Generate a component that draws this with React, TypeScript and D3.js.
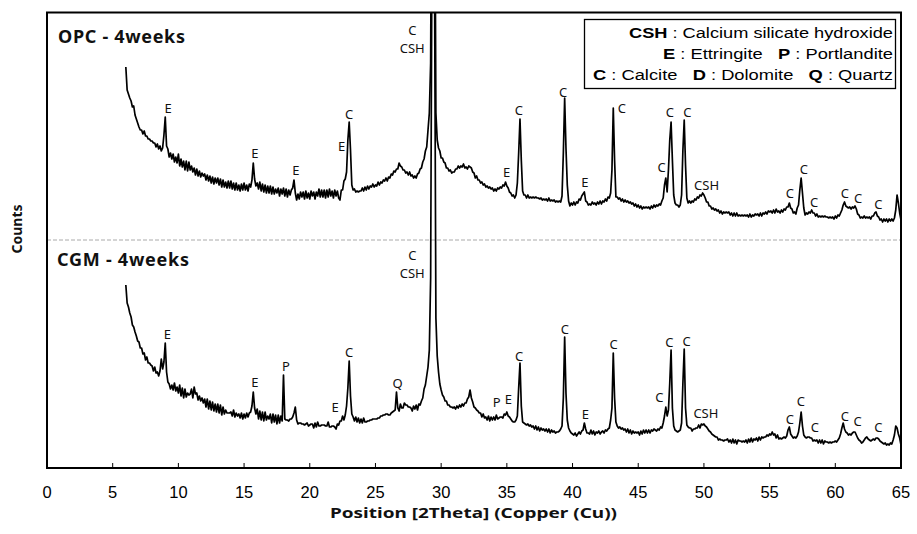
import React from 'react';
import * as d3 from 'd3';

const W = 917;
const H = 534;

// x axis ticks (2Theta)
const xTicks = [0, 5, 10, 15, 20, 25, 30, 35, 40, 45, 50, 55, 60, 65];

// scan: 2Theta from 6.0 to 65.0 in steps of 0.1
const SCAN_START = 6.0;
const SCAN_STEP = 0.1;

// vertical shift applied to the OPC pattern (stacked display)
const OPC_OFFSET = 225;
const SEPARATOR_LEVEL = 228;

// CGM - 4weeks intensities (a.u.), one row per degree (x.0 .. x.9)
const cgmCounts: number[] = [
  183, 165, 161, 155, 151, 143, 141, 136, 132, 127, // 6
  126, 120, 120, 114, 115, 108, 111, 105, 105, 103, // 7
  102, 97, 101, 95, 96, 92, 97, 109, 99, 106, // 8
  125, 96, 86, 84, 79, 83, 78, 85, 77, 81, // 9
  75, 83, 72, 80, 70, 79, 71, 75, 73, 74, // 10
  79, 70, 81, 74, 75, 68, 72, 67, 70, 65, // 11
  69, 61, 69, 59, 67, 58, 66, 57, 64, 56, // 12
  64, 55, 63, 53, 61, 54, 58, 55, 55, 55, // 13
  56, 52, 58, 51, 55, 52, 54, 50, 55, 49, // 14
  54, 50, 55, 51, 55, 56, 62, 76, 60, 54, // 15
  59, 49, 57, 48, 56, 47, 56, 48, 52, 49, // 16
  54, 45, 54, 46, 53, 44, 53, 45, 52, 47, // 17
  93, 49, 48, 48, 47, 49, 49, 51, 55, 61, // 18
  48, 44, 45, 45, 44, 44, 43, 44, 45, 42, // 19
  43, 44, 44, 40, 45, 41, 46, 42, 42, 43, // 20
  43, 43, 42, 42, 46, 41, 41, 42, 42, 41, // 21
  39, 44, 43, 47, 47, 52, 48, 53, 62, 80, // 22
  107, 72, 54, 51, 47, 51, 46, 50, 45, 49, // 23
  45, 50, 46, 46, 47, 47, 48, 48, 49, 49, // 24
  49, 49, 50, 50, 52, 52, 53, 53, 54, 54, // 25
  53, 53, 55, 56, 57, 58, 76, 60, 57, 64, // 26
  60, 60, 65, 63, 63, 61, 61, 60, 57, 62, // 27
  59, 63, 58, 64, 63, 67, 70, 79, 83, 92, // 28
  101, 118, 190, 520, 540, 480, 150, 112, 96, 84, // 29
  78, 73, 71, 67, 67, 63, 63, 61, 61, 60, // 30
  61, 59, 62, 60, 63, 61, 64, 62, 65, 65, // 31
  69, 71, 78, 70, 66, 61, 60, 58, 57, 55, // 32
  55, 51, 54, 50, 51, 48, 52, 47, 51, 48, // 33
  51, 48, 53, 49, 50, 51, 51, 50, 54, 53, // 34
  56, 52, 51, 49, 47, 46, 46, 48, 52, 80, // 35
  105, 62, 46, 45, 44, 43, 44, 42, 43, 41, // 36
  42, 39, 42, 38, 41, 37, 40, 38, 39, 37, // 37
  39, 36, 39, 35, 38, 36, 37, 35, 36, 36, // 38
  37, 39, 42, 70, 131, 75, 48, 40, 37, 35, // 39
  34, 33, 35, 32, 34, 36, 34, 37, 38, 45, // 40
  39, 35, 35, 34, 38, 34, 37, 33, 36, 35, // 41
  37, 34, 36, 37, 35, 38, 37, 39, 40, 48, // 42
  60, 115, 70, 46, 42, 40, 41, 39, 40, 38, // 43
  39, 36, 39, 35, 38, 34, 37, 35, 36, 35, // 44
  36, 33, 37, 34, 38, 35, 38, 35, 38, 35, // 45
  38, 37, 39, 38, 37, 39, 38, 41, 40, 45, // 46
  52, 61, 52, 58, 85, 118, 60, 42, 38, 37, // 47
  36, 37, 38, 45, 85, 119, 60, 43, 41, 40, // 48
  40, 37, 39, 39, 40, 40, 43, 40, 44, 43, // 49
  44, 42, 41, 39, 37, 36, 34, 33, 32, 31, // 50
  31, 28, 29, 28, 28, 27, 28, 28, 29, 26, // 51
  28, 25, 29, 25, 28, 24, 28, 27, 27, 26, // 52
  27, 26, 28, 25, 29, 26, 30, 26, 29, 28, // 53
  30, 27, 31, 28, 31, 30, 31, 31, 33, 32, // 54
  34, 33, 36, 33, 34, 30, 33, 29, 30, 29, // 55
  30, 31, 30, 32, 38, 41, 34, 32, 30, 31, // 56
  30, 32, 36, 45, 56, 42, 33, 31, 30, 31, // 57
  31, 30, 30, 27, 28, 27, 28, 25, 28, 25, // 58
  28, 24, 27, 26, 26, 25, 26, 25, 26, 26, // 59
  27, 26, 28, 30, 34, 40, 45, 39, 36, 35, // 60
  33, 34, 33, 35, 36, 36, 33, 30, 28, 27, // 61
  25, 26, 28, 30, 31, 29, 28, 27, 28, 29, // 62
  28, 30, 30, 29, 27, 26, 25, 24, 25, 23, // 63
  24, 23, 25, 24, 28, 33, 42, 40, 34, 30, // 64
  23, // 65
];

// OPC - 4weeks intensities (a.u.), one row per degree (x.0 .. x.9)
const opcCounts: number[] = [
  176, 153, 149, 145, 142, 136, 137, 128, 124, 120, // 6
  116, 113, 113, 109, 112, 107, 107, 104, 104, 102, // 7
  102, 100, 100, 96, 99, 94, 97, 92, 95, 108, // 8
  126, 97, 94, 86, 90, 84, 89, 81, 86, 80, // 9
  89, 77, 84, 76, 82, 73, 82, 72, 81, 73, // 10
  77, 71, 75, 68, 74, 67, 72, 66, 70, 67, // 11
  69, 63, 68, 62, 67, 60, 66, 59, 65, 60, // 12
  65, 58, 64, 56, 63, 56, 61, 55, 62, 55, // 13
  62, 54, 60, 53, 60, 53, 58, 52, 59, 53, // 14
  60, 53, 58, 52, 59, 56, 63, 80, 64, 57, // 15
  60, 54, 61, 52, 59, 51, 58, 50, 57, 50, // 16
  57, 49, 56, 49, 54, 50, 55, 47, 54, 49, // 17
  55, 47, 54, 46, 53, 48, 53, 55, 63, 50, // 18
  43, 49, 44, 51, 46, 51, 44, 52, 45, 50, // 19
  44, 52, 47, 51, 44, 51, 47, 54, 46, 53, // 20
  46, 53, 45, 53, 46, 54, 47, 52, 45, 53, // 21
  47, 52, 45, 43, 53, 53, 62, 64, 71, 103, // 22
  121, 93, 58, 53, 54, 51, 52, 51, 52, 52, // 23
  55, 52, 56, 53, 57, 54, 57, 56, 59, 56, // 24
  58, 57, 61, 58, 61, 60, 63, 62, 65, 62, // 25
  66, 65, 69, 68, 72, 71, 74, 74, 80, 77, // 26
  76, 73, 73, 70, 71, 68, 71, 67, 68, 65, // 27
  67, 65, 69, 70, 74, 75, 81, 84, 92, 96, // 28
  113, 130, 180, 475, 495, 425, 130, 103, 95, 92, // 29
  85, 85, 81, 80, 75, 75, 72, 73, 70, 71, // 30
  71, 74, 74, 77, 75, 77, 76, 79, 75, 76, // 31
  74, 77, 76, 75, 71, 70, 65, 67, 63, 63, // 32
  60, 61, 58, 59, 56, 57, 55, 56, 54, 55, // 33
  52, 54, 52, 55, 54, 56, 55, 58, 57, 61, // 34
  57, 55, 51, 50, 47, 48, 45, 48, 60, 90, // 35
  124, 83, 52, 48, 48, 45, 48, 45, 46, 45, // 36
  46, 45, 46, 45, 45, 44, 45, 43, 44, 43, // 37
  44, 42, 45, 42, 43, 42, 43, 41, 42, 41, // 38
  42, 41, 47, 90, 145, 95, 58, 42, 37, 40, // 39
  38, 41, 38, 41, 40, 44, 43, 47, 49, 51, // 40
  42, 41, 38, 39, 38, 41, 39, 40, 38, 41, // 41
  39, 42, 39, 42, 41, 44, 42, 46, 45, 50, // 42
  73, 135, 83, 46, 46, 44, 45, 42, 44, 41, // 43
  43, 41, 42, 40, 41, 39, 40, 37, 39, 36, // 44
  38, 35, 37, 34, 36, 35, 36, 35, 36, 34, // 45
  37, 35, 38, 36, 38, 37, 39, 38, 42, 45, // 46
  58, 65, 51, 73, 103, 121, 83, 48, 40, 38, // 47
  38, 36, 38, 48, 93, 123, 78, 45, 40, 42, // 48
  40, 42, 41, 44, 43, 46, 45, 48, 47, 50, // 49
  48, 45, 41, 41, 37, 37, 34, 35, 33, 34, // 50
  32, 33, 30, 32, 29, 31, 30, 31, 30, 31, // 51
  28, 30, 27, 30, 27, 30, 27, 28, 27, 28, // 52
  27, 28, 27, 28, 26, 29, 26, 28, 27, 29, // 53
  28, 29, 27, 30, 27, 30, 29, 31, 29, 32, // 54
  31, 32, 30, 33, 30, 34, 31, 32, 30, 33, // 55
  31, 34, 33, 36, 36, 40, 35, 34, 30, 31, // 56
  29, 35, 38, 53, 65, 50, 35, 28, 30, 29, // 57
  31, 30, 33, 30, 30, 27, 29, 26, 27, 26, // 58
  27, 26, 27, 26, 26, 25, 26, 25, 26, 24, // 59
  27, 25, 28, 27, 30, 33, 38, 41, 37, 36, // 60
  35, 36, 34, 36, 35, 37, 34, 29, 28, 25, // 61
  26, 25, 27, 25, 26, 25, 26, 24, 27, 27, // 62
  30, 31, 27, 26, 23, 24, 21, 24, 22, 24, // 63
  21, 24, 22, 24, 22, 25, 33, 48, 40, 30, // 64
  23, // 65
];

// phase annotations: [2Theta, intensity, text]
const opcLabels: [number, number, string][] = [
  [9.21, 135, 'E'], [15.83, 90, 'E'], [18.95, 73, 'E'], [22.43, 97, 'E'], [23.0, 129, 'C'],
  [27.8, 213, 'C'], [27.8, 195, 'CSH'], [34.98, 71, 'E'], [35.92, 133, 'C'], [39.29, 151, 'C'],
  [40.94, 61, 'E'], [43.76, 135, 'C'], [46.78, 76, 'C'], [47.41, 131, 'C'], [48.73, 131, 'C'],
  [50.2, 58, 'CSH'], [56.54, 50, 'C'], [57.61, 74, 'C'], [58.39, 41, 'C'], [60.73, 50, 'C'],
  [61.74, 45, 'C'], [63.27, 39, 'C'],
];

const cgmLabels: [number, number, string][] = [
  [9.16, 134, 'E'], [15.83, 86, 'E'], [18.19, 102, 'P'], [21.92, 61, 'E'], [23.0, 116, 'C'],
  [26.69, 85, 'Q'], [27.8, 213, 'C'], [27.8, 195, 'CSH'], [34.22, 66, 'P'], [35.11, 69, 'E'],
  [35.94, 112, 'C'], [39.42, 139, 'C'], [40.97, 54, 'E'], [43.13, 124, 'C'], [46.6, 71, 'C'],
  [47.36, 126, 'C'], [48.68, 127, 'C'], [50.15, 55, 'CSH'], [56.54, 49, 'C'], [57.38, 67, 'C'],
  [58.45, 41, 'C'], [60.73, 52, 'C'], [61.7, 47, 'C'], [63.27, 41, 'C'],
];

// legend rows: [bold key, description]
const legendRows: [string, string][][] = [
  [['CSH', ' : Calcium silicate hydroxide']],
  [['E', ' : Ettringite'], ['P', ' : Portlandite']],
  [['C', ' : Calcite'], ['D', ' : Dolomite'], ['Q', ' : Quartz']],
];
const legendRowStart = [629, 663, 593];

const sampleNames = ['OPC - 4weeks', 'CGM - 4weeks'];

const PL = 47, PR = 901, PT = 12.5, PB = 468;
const GAP = '\u00a0\u00a0\u00a0';

export default function App() {
  const x = d3.scaleLinear().domain([0, 65]).range([PL, PR]);
  const y = d3.scaleLinear().domain([0, 455.5]).range([PB, PT]);
  const toPts = (arr: number[]) => arr.map((v, i) => [SCAN_START + i * SCAN_STEP, v] as [number, number]);
  const cgmLine = d3.line<[number, number]>().x(d => x(d[0])).y(d => y(d[1]));
  const opcLine = d3.line<[number, number]>().x(d => x(d[0])).y(d => y(d[1] + OPC_OFFSET));

  const labelFont = "'Noto Sans', 'DejaVu Sans', sans-serif";
  const arial = "'Liberation Sans', Arial, sans-serif";

  return (
    <svg width={W} height={H} style={{ position: 'absolute', left: 0, top: 0, background: '#fff' }}>
      <defs>
        <clipPath id="plotclip">
          <rect x={PL} y={PT} width={PR - PL} height={PB - PT} />
        </clipPath>
      </defs>
      <rect x={0} y={0} width={W} height={H} fill="#fff" />

      {/* separator */}
      <line x1={PL} x2={PR} y1={y(SEPARATOR_LEVEL)} y2={y(SEPARATOR_LEVEL)} stroke="#aaa" strokeWidth={1} strokeDasharray="4,2" />

      <g clipPath="url(#plotclip)">
        <path d={cgmLine(toPts(cgmCounts)) || ''} fill="none" stroke="#000" strokeWidth={1.7} strokeLinejoin="round" />
        <path d={opcLine(toPts(opcCounts)) || ''} fill="none" stroke="#000" strokeWidth={1.7} strokeLinejoin="round" />
      </g>

      {/* peak labels */}
      <g fontFamily={labelFont} fontSize={13} fill="#111" textAnchor="middle" dominantBaseline="central">
        {opcLabels.map((l, i) => (
          <text key={'o' + i} x={x(l[0])} y={y(l[1] + OPC_OFFSET)}>{l[2]}</text>
        ))}
        {cgmLabels.map((l, i) => (
          <text key={'c' + i} x={x(l[0])} y={y(l[1])}>{l[2]}</text>
        ))}
      </g>

      {/* sample names */}
      <text x={58} y={42.7} fontFamily={labelFont} fontWeight="bold" fontSize={18} fill="#111" textLength={127} lengthAdjust="spacing">{sampleNames[0]}</text>
      <text x={57} y={266} fontFamily={labelFont} fontWeight="bold" fontSize={18} fill="#111" textLength={132} lengthAdjust="spacing">{sampleNames[1]}</text>

      {/* legend */}
      <rect x={584.5} y={19.5} width={311} height={69} fill="#fff" stroke="#000" strokeWidth={1.3} />
      <g fontFamily={arial} fontSize={15.5} fill="#000">
        {legendRows.map((row, ri) => (
          <text key={ri} x={legendRowStart[ri]} y={37.5 + ri * 21.3} textLength={893 - legendRowStart[ri]} lengthAdjust="spacingAndGlyphs">
            {row.map((seg, si) => (
              <React.Fragment key={si}>
                <tspan fontWeight="bold">{(si > 0 ? GAP : '') + seg[0]}</tspan>
                <tspan>{seg[1]}</tspan>
              </React.Fragment>
            ))}
          </text>
        ))}
      </g>

      {/* frame */}
      <rect x={PL} y={PT} width={PR - PL} height={PB - PT} fill="none" stroke="#000" strokeWidth={2} />

      {/* x ticks */}
      {xTicks.filter(t => t > 0 && t < 65).map(t => (
        <line key={t} x1={x(t)} x2={x(t)} y1={PB} y2={PB - 5} stroke="#000" strokeWidth={1} />
      ))}
      <g fontFamily={arial} fontSize={16.5} fill="#000" textAnchor="middle">
        {xTicks.map(t => (
          <text key={t} x={x(t)} y={497.5}>{t}</text>
        ))}
      </g>

      {/* axis titles */}
      <text x={330} y={518} fontFamily={labelFont} fontWeight="bold" fontSize={15} fill="#111" textLength={287} lengthAdjust="spacingAndGlyphs">
        Position [2Theta] (Copper (Cu))
      </text>
      <text transform={`translate(22, 229) rotate(-90)`} textAnchor="middle" fontFamily={labelFont} fontWeight="bold" fontSize={14} fill="#111">
        Counts
      </text>
    </svg>
  );
}
